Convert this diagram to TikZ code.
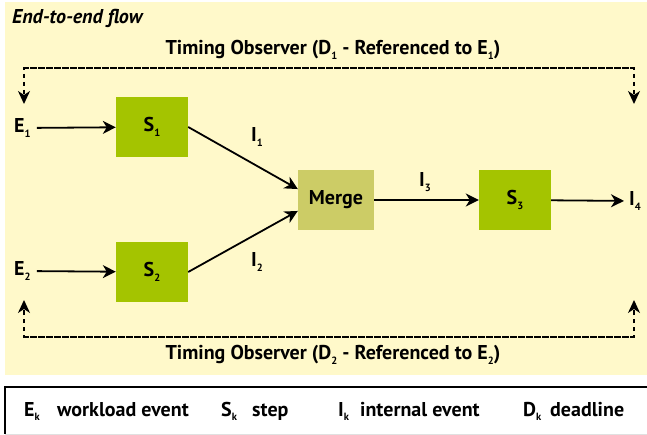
\documentclass[tikz,border=0pt]{standalone}
\usepackage{fontspec}
\setmainfont{PT Sans}
\usetikzlibrary{arrows.meta}
\definecolor{bgyellow}{RGB}{255,249,202}
\definecolor{stepgreen}{RGB}{164,196,0}
\definecolor{mergeolive}{RGB}{204,204,102}
\newcommand{\ix}[1]{\raisebox{-0.45ex}{\fontsize{10.5}{10.5}\selectfont #1}}
\tikzstyle{arrow} = [line width=1.8pt,-{Stealth[length=13pt,width=13pt,inset=4pt]}]
\tikzstyle{observer} = [line width=1.8pt,dash pattern=on 4.5pt off 3.5pt,-{Stealth[length=13pt,width=12pt,inset=4pt]}]
\tikzstyle{lbl} = [font=\fontsize{20}{20}\selectfont\bfseries,inner sep=2pt]
\tikzstyle{stepbox} = [lbl,fill=stepgreen,minimum width=72pt,minimum height=60pt]

\begin{document}
\begin{tikzpicture}[x=1pt,y=-1pt]
          \useasboundingbox (0,0) rectangle (647,435);
          % background and legend frame
          \fill[bgyellow] (5,2) rectangle (647,375);
          \fill[white] (5,387) rectangle (647,434);
          \draw[line width=0.6pt,black!12] (5,434) -- (647,434);
          \draw[line width=2pt] (647,387) -- (5,387) -- (5,434);
          \node[lbl,anchor=west,font=\fontsize{20}{20}\selectfont\bfseries\itshape] (title) at (10,18) {End-to-end flow};
          % steps
          \node[stepbox] (s1) at (152,127) {S\ix1};
          \node[stepbox] (s2) at (152,272) {S\ix2};
          \node[stepbox,fill=mergeolive,minimum width=76pt] (merge) at (336,200) {Merge};
          \node[stepbox] (s3) at (515,200) {S\ix3};
          % events
          \node[lbl,anchor=west] (e1) at (12,128) {E\ix1};
          \node[lbl,anchor=west] (e2) at (12,271) {E\ix2};
          \node[lbl] (i1) at (257,137) {I\ix1};
          \node[lbl] (i2) at (257,262) {I\ix2};
          \node[lbl] (i3) at (425,182) {I\ix3};
          \node[lbl,anchor=west] (i4) at (627,201) {I\ix4};
          \draw[arrow,shorten <=4pt] (e1) -- (s1);
          \draw[arrow,shorten <=4pt] (e2) -- (s2);
          \draw[arrow] (s1.east) -- (merge.164);
          \draw[arrow] (s2.east) -- (merge.196);
          \draw[arrow] (merge) -- (s3);
          \draw[arrow,shorten >=3pt] (s3) -- (i4);
          % timing observers
          \coordinate (tl) at (24,68);
          \coordinate (tr) at (634,68);
          \coordinate (trend) at (634,104);
          \coordinate (bl) at (24,337);
          \coordinate (br) at (634,337);
          \coordinate (brend) at (634,300);
          \draw[observer] (tr) -- (tl) -- (24,104);
          \draw[observer] (tl) -- (tr) -- (trend);
          \draw[observer] (br) -- (bl) -- (24,300);
          \draw[observer] (bl) -- (br) -- (brend);
          \node[lbl] (obs1) at (333,50) {Timing Observer (D\ix1 - Referenced to E\ix1)};
          \node[lbl] (obs2) at (333,355) {Timing Observer (D\ix2 - Referenced to E\ix2)};
          % legend
          \node[lbl,anchor=base west] (lek) at (22,416) {E\ix{k}};
          \node[lbl,anchor=base west] (lev) at (55,416) {workload event};
          \node[lbl,anchor=base west] (lsk) at (219,416) {S\ix{k}};
          \node[lbl,anchor=base west] (lst) at (250,416) {step};
          \node[lbl,anchor=base west] (lik) at (336,416) {I\ix{k}};
          \node[lbl,anchor=base west] (lin) at (358,416) {internal event};
          \node[lbl,anchor=base west] (ldk) at (521,416) {D\ix{k}};
          \node[lbl,anchor=base west] (ldl) at (548,416) {deadline};
      \end{tikzpicture}
\end{document}
